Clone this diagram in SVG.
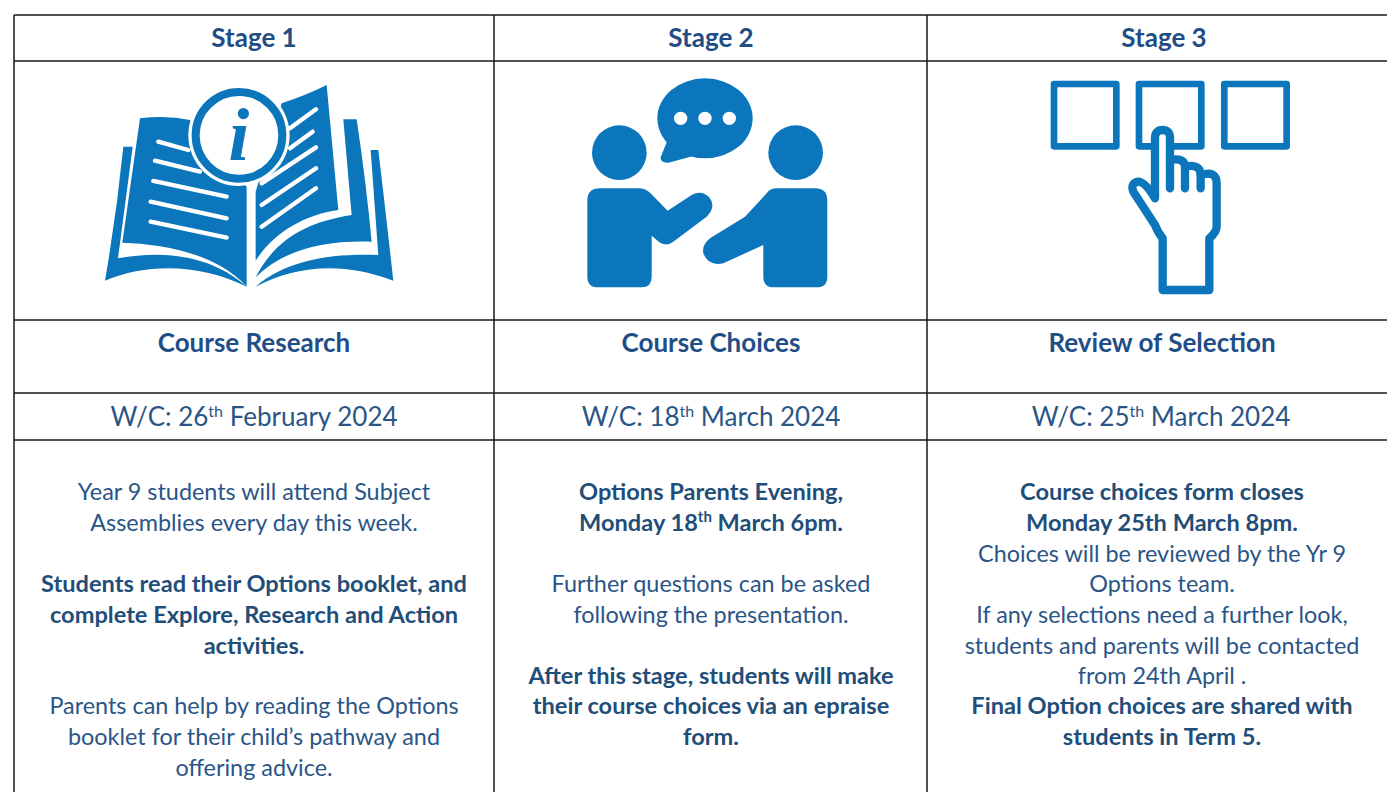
<svg xmlns="http://www.w3.org/2000/svg" width="1387" height="792" viewBox="0 0 1387 792">
<style>
text{font-family:Lato,"Noto Sans",sans-serif;fill:#2a5587;text-anchor:middle}
.h{font-size:26px;font-weight:700;fill:#1f4e87}
.d{font-size:26px}
.b{font-size:23.4px}
.s{font-size:23.6px;font-weight:700;fill:#1f4e79}
.g{stroke:#1a1a1a;stroke-width:1.5;fill:none}
.i{fill:#0b76bb}
.w{stroke:#fff;stroke-width:13;stroke-linecap:round;fill:none}
.o{stroke:#0b76bb;stroke-width:20;fill:none;stroke-linejoin:round;stroke-linecap:round}
.t{stroke-width:25}
</style>
<rect width="1387" height="792" fill="#fff"/>
<g id="connectors" class="g">
<path d="M14,15H1387M14,61H1387M14,320H1387M14,393H1387M14,440H1387M14,15V792M494,15V792M927,15V792"/>
</g>
<g id="stage1">
<text class="h" x="254" y="47">Stage 1</text>
<g id="icon-book" transform="translate(90,70) scale(.3333)">
<path class="i" d="M150,145Q230,135 300,150L470,350V650C380,550 220,522 97,518Z"/>
<path class="i" d="M100,230H128L84,565C250,535 380,570 470,650C340,585 180,575 45,632Q80,430 100,230Z"/>
<path class="i" d="M575,100Q650,75 710,45L745,420C640,435 550,490 497,572V365Z"/>
<path class="i" d="M760,148H800Q830,350 845,515C700,510 580,540 497,622C560,500 660,455 785,435Z"/>
<path class="i" d="M842,240H865Q890,450 910,632C760,575 620,585 497,650C590,570 720,550 865,555Z"/>
<path class="w" d="M205,215L295,240M195,272L330,305M190,333L410,380M182,395L410,445M182,455L410,503M600,175L678,118M600,235L668,185M515,340L678,232M515,405L678,295M515,470L678,355"/>
<circle cx="447" cy="196" r="152" fill="#fff"/>
<circle cx="447" cy="196" r="130" fill="#fff" stroke="#0b76bb" stroke-width="24"/>
<text x="447" y="270" style="font-family:'Liberation Serif',serif;font-style:italic;font-weight:700;font-size:225px;fill:#0b76bb">i</text>
</g>
<text class="h" x="254" y="352">Course Research</text>
<text class="d" x="254" y="426">W/C: 26<tspan baseline-shift="super" font-size="16">th</tspan> February 2024</text>
<text class="b" x="254" y="500">Year 9 students will attend Subject</text>
<text class="b" x="254" y="531">Assemblies every day this week.</text>
<text class="s" x="254" y="592">Students read their Options booklet, and</text>
<text class="s" x="254" y="623">complete Explore, Research and Action</text>
<text class="s" x="254" y="654">activities.</text>
<text class="b" x="254" y="714">Parents can help by reading the Options</text>
<text class="b" x="254" y="745">booklet for their child’s pathway and</text>
<text class="b" x="254" y="776">offering advice.</text>
</g>
<g id="stage2">
<text class="h" x="711" y="47">Stage 2</text>
<g id="icon-people" class="i" transform="translate(570,70) scale(.3333)">
<circle cx="148" cy="248" r="82"/>
<circle cx="677" cy="248" r="82"/>
<ellipse cx="405" cy="145" rx="143" ry="120"/>
<path d="M295,205L272,262Q272,280 295,278L370,258Z"/>
<g fill="#fff"><circle cx="332" cy="145" r="20"/><circle cx="405" cy="145" r="20"/><circle cx="478" cy="145" r="20"/></g>
<path d="M90,355H205Q225,355 240,368L293,422L365,375Q395,358 418,382Q440,410 410,440L310,515Q290,530 270,518L245,497V620Q245,652 215,652H85Q52,652 52,620V392Q52,355 90,355Z"/>
<path d="M735,355H620Q600,355 590,370L525,440L420,505Q395,525 400,550Q415,590 460,580L580,525V620Q580,652 612,652H740Q772,652 772,620V392Q772,355 735,355Z"/>
</g>
<text class="h" x="711" y="352">Course Choices</text>
<text class="d" x="711" y="426">W/C: 18<tspan baseline-shift="super" font-size="16">th</tspan> March 2024</text>
<text class="s" x="711" y="500">Options Parents Evening,</text>
<text class="s" x="711" y="531">Monday 18<tspan baseline-shift="super" font-size="15">th</tspan> March 6pm.</text>
<text class="b" x="711" y="592">Further questions can be asked</text>
<text class="b" x="711" y="623">following the presentation.</text>
<text class="s" x="711" y="684">After this stage, students will make</text>
<text class="s" x="711" y="714">their course choices via an epraise</text>
<text class="s" x="711" y="745">form.</text>
</g>
<g id="stage3">
<text class="h" x="1164" y="47">Stage 3</text>
<g id="icon-hand" transform="translate(1030,70) scale(.3333)">
<g class="o">
<rect x="72" y="42" width="187" height="187"/>
<rect x="327" y="42" width="187" height="187"/>
<rect x="583" y="42" width="187" height="187"/>
</g>
<path class="o t" style="fill:#fff" d="M398,660V505Q385,490 375,465L310,365Q300,340 325,335Q345,335 375,385V205Q375,180 398,180Q420,180 420,205V270Q465,262 465,290Q512,280 512,315Q560,300 560,340V470Q560,485 538,505V660Z"/>
<path class="o t" d="M420,270V355M465,290V355M512,315V355"/>
</g>
<text class="h" x="1162" y="352">Review of Selection</text>
<text class="d" x="1161" y="426">W/C: 25<tspan baseline-shift="super" font-size="16">th</tspan> March 2024</text>
<text class="s" x="1162" y="500">Course choices form closes</text>
<text class="s" x="1162" y="531">Monday 25th March 8pm.</text>
<text class="b" x="1162" y="562">Choices will be reviewed by the Yr 9</text>
<text class="b" x="1162" y="592">Options team.</text>
<text class="b" x="1162" y="623">If any selections need a further look,</text>
<text class="b" x="1162" y="654">students and parents will be contacted</text>
<text class="b" x="1162" y="684">from 24th April .</text>
<text class="s" x="1162" y="714">Final Option choices are shared with</text>
<text class="s" x="1162" y="745">students in Term 5.</text>
</g>
</svg>
